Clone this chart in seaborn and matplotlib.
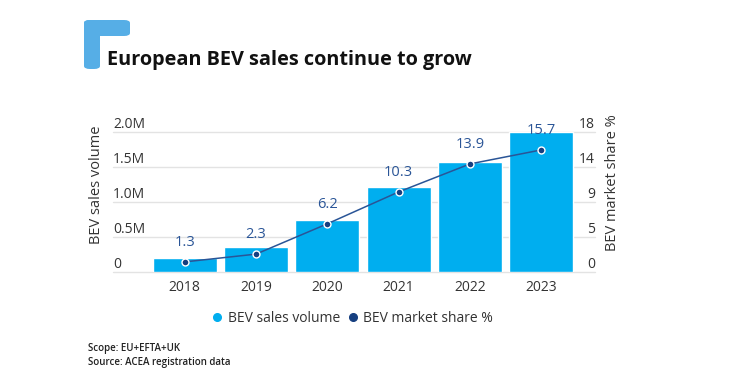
import numpy as np
import pandas as pd
import matplotlib
matplotlib.use("Agg")
import matplotlib.pyplot as plt
import seaborn as sns
from matplotlib.patches import FancyBboxPatch
from matplotlib.lines import Line2D

# --- data ---
years = ["2018", "2019", "2020", "2021", "2022", "2023"]
sales_volume = [0.20e6, 0.36e6, 0.74e6, 1.21e6, 1.57e6, 2.00e6]
market_share = [1.3, 2.3, 6.2, 10.3, 13.9, 15.7]
left_ticks = [0, 0.5e6, 1.0e6, 1.5e6, 2.0e6]
left_labels = ["0", "0.5M", "1.0M", "1.5M", "2.0M"]
right_ticks = [0, 4.5, 9, 13.5, 18]
right_labels = ["0", "5", "9", "14", "18"]

df = pd.DataFrame({"year": years, "volume": sales_volume, "share": market_share})

sns.set_theme(style="white")
plt.rcParams["font.family"] = ["Open Sans", "DejaVu Sans"]

BAR = "#00aeef"
NAVY = "#163f80"
LINE = "#2a5597"
TXT = "#333333"
GRID = "#e3e3e3"

fig = plt.figure(figsize=(7.4, 3.8), dpi=100)
ax = fig.add_axes([0.2014, 0.2842, 0.5784, 0.3684])

sns.barplot(data=df, x="year", y="volume", color=BAR, width=0.9,
            saturation=1, ax=ax, zorder=2)
ax.set_xlim(-0.5, 5.5)
ax.set_ylim(0, 2.0e6)

# gridlines that run under the left/right tick labels
for t in left_ticks:
    ax.axhline(t, xmin=-0.084, xmax=1.042, color=GRID, lw=1, clip_on=False, zorder=0)

for s in ax.spines.values():
    s.set_visible(False)
ax.set_yticks([])
ax.set_xlabel("")
ax.set_ylabel("")
ax.tick_params(axis="x", length=0, pad=6, labelsize=10, labelcolor=TXT)

# left tick labels sitting on top of the gridlines
for t, lab in zip(left_ticks, left_labels):
    ax.text(-0.084, t, lab, transform=ax.get_yaxis_transform(), ha="left",
            va="bottom", fontsize=10, color=TXT)

ax2 = ax.twinx()
ax2.set_ylim(0, 18)
sns.lineplot(x=np.arange(len(years)), y=market_share, ax=ax2, color=LINE,
             lw=1.1, marker="o", markersize=5, markerfacecolor=NAVY,
             markeredgecolor="white", markeredgewidth=1.0, zorder=3)
for s in ax2.spines.values():
    s.set_visible(False)
ax2.set_yticks([])
for t, lab in zip(right_ticks, right_labels):
    ax2.text(1.042, t, lab, transform=ax2.get_yaxis_transform(), ha="right",
             va="bottom", fontsize=10, color=TXT)
for i, v in enumerate(market_share):
    ax2.text(i, v + 1.5, f"{v}", ha="center", va="bottom", fontsize=10.5,
             color=LINE)

fig.text(0.131, 0.513, "BEV sales volume", rotation=90, ha="center",
         va="center", fontsize=10.5, color=TXT)
fig.text(0.828, 0.52, "BEV market share %", rotation=90, ha="center",
         va="center", fontsize=10.5, color=TXT)

# legend
handles = [
    Line2D([], [], marker="o", ls="", color=BAR, markersize=5.5, label="BEV sales volume"),
    Line2D([], [], marker="o", ls="", color=NAVY, markersize=5.5, label="BEV market share %"),
]
fig.legend(handles=handles, loc="center", bbox_to_anchor=(0.473, 0.163), ncol=2,
           frameon=False, fontsize=10, handletextpad=0.0, columnspacing=0.2,
           handlelength=1.5, labelcolor=TXT)

# logo
fig.patches.append(FancyBboxPatch((84 / 740, 1 - 69 / 380), 16 / 740, 49 / 380,
                                  boxstyle="round,pad=0,rounding_size=0.008",
                                  transform=fig.transFigure, fc="#56aee6", ec="none"))
fig.patches.append(FancyBboxPatch((84 / 740, 1 - 36 / 380), 46 / 740, 16 / 380,
                                  boxstyle="round,pad=0,rounding_size=0.008",
                                  transform=fig.transFigure, fc="#56aee6", ec="none"))

fig.text(107 / 740, 1 - 60 / 380, "European BEV sales continue to grow",
         fontsize=14.3, fontweight="bold", color="#111111", ha="left", va="center")

fig.text(88 / 740, 1 - 348 / 380, "Scope: EU+EFTA+UK", fontsize=7,
         fontweight="semibold", color="#222222", ha="left", va="center")
fig.text(88 / 740, 1 - 362 / 380, "Source: ACEA registration data", fontsize=7,
         fontweight="semibold", color="#222222", ha="left", va="center")

fig.savefig("out.png", dpi=100, facecolor="white")
